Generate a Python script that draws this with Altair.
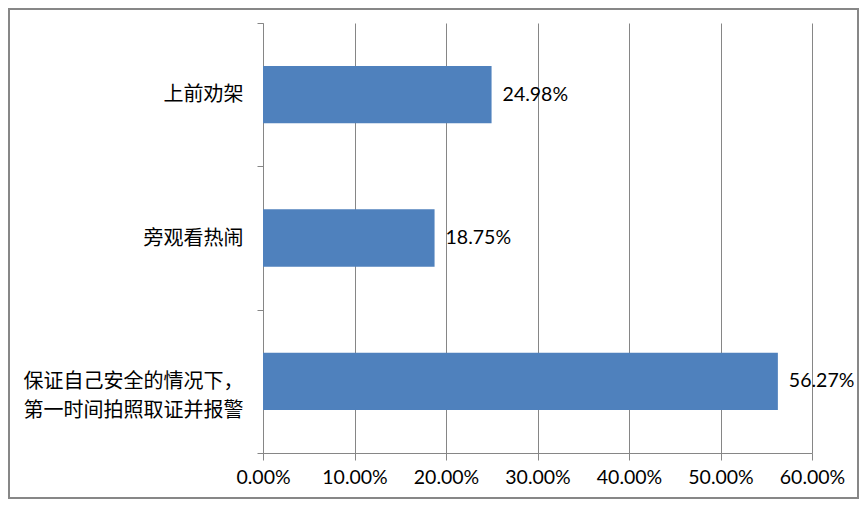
import altair as alt
import pandas as pd

categories = ["上前劝架", "旁观看热闹", "保证自己安全的情况下，\n第一时间拍照取证并报警"]
values = [0.2498, 0.1875, 0.5627]
x_ticks = [0.0, 0.1, 0.2, 0.3, 0.4, 0.5, 0.6]

df = pd.DataFrame({"cat": categories, "val": values})

W, H = 549, 430
PL, PT = 255, 15
TOTAL_W, TOTAL_H = 851, 491
PR, PB = TOTAL_W - PL - W, TOTAL_H - PT - H
GRID = "#868686"
CJK = "Noto Sans CJK SC"
NUM = "Lato"

base = alt.Chart(df)

y_enc = alt.Y(
    "cat:N",
    sort=categories,
    scale=alt.Scale(paddingInner=0, paddingOuter=0),
    axis=alt.Axis(
        title=None,
        tickBand="extent",
        domainColor=GRID,
        tickColor=GRID,
        tickSize=6,
        labelPadding=14,
        labelFont=CJK,
        labelFontSize=20,
        labelColor="#000000",
        labelLineHeight=29,
        labelLimit=400,
        labelExpr="split(datum.label, '\\n')",
        grid=False,
    ),
)

x_enc = alt.X(
    "val:Q",
    scale=alt.Scale(domain=[0, 0.6], nice=False),
    axis=alt.Axis(
        title=None,
        values=x_ticks,
        format=".2%",
        grid=True,
        gridColor=GRID,
        gridOpacity=1,
        domainColor=GRID,
        tickColor=GRID,
        tickSize=7,
        labelPadding=8,
        labelFlush=False,
        labelFont=NUM,
        labelFontSize=19.5,
        labelColor="#000000",
    ),
)

bars = base.mark_bar(color="#4F81BD", height=alt.RelativeBandSize(0.4)).encode(
    x=x_enc, y=y_enc
)

labels = base.mark_text(
    align="left", baseline="middle", dx=11, font=NUM, fontSize=19.5, color="#000000"
).encode(
    x="val:Q",
    y=alt.Y("cat:N", sort=categories),
    text=alt.Text("val:Q", format=".2%"),
)

border = base.mark_rect(fill=None, stroke="#878787", strokeWidth=2, clip=False).encode(
    x=alt.value(-(PL - 1)),
    x2=alt.value(W + PR - 1),
    y=alt.value(-(PT - 1)),
    y2=alt.value(H + PB - 1),
)

chart = (
    alt.layer(bars, labels, border)
    .properties(
        width=W,
        height=H,
        autosize=alt.AutoSizeParams(type="none"),
        padding={"left": PL, "top": PT, "right": PR, "bottom": PB},
        background="#ffffff",
    )
    .configure_view(stroke=None)
)

chart.save("out.html", embed_options={"renderer": "svg", "actions": False})
